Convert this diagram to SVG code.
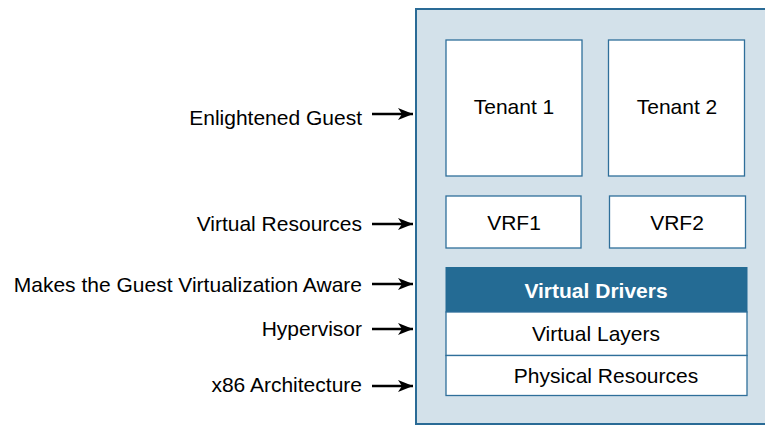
<svg xmlns="http://www.w3.org/2000/svg" width="765" height="425" viewBox="0 0 765 425">
<style>
.lbl{font-family:"Liberation Sans",Arial,sans-serif;font-size:21px;fill:#000;text-anchor:end}
.box{fill:#fff;stroke:#2f6f9a;stroke-width:1.3}
.t{font-family:"Liberation Sans",Arial,sans-serif;font-size:21px;fill:#000;text-anchor:middle}
.c{stroke:#000;stroke-width:2.5;fill:none;marker-end:url(#ah)}
</style>
<defs>
<marker id="ah" markerUnits="userSpaceOnUse" markerWidth="16" markerHeight="14" refX="15" refY="6" orient="auto">
<path d="M0,0 L15,6 L0,12 L4,6 Z" fill="#000"/>
</marker>
</defs>
<g id="outer"><rect x="416" y="9" width="360" height="415" fill="#d3e1ea" stroke="#2a6b96" stroke-width="2"/></g>
<g id="tenant1"><rect class="box" x="446" y="40" width="136" height="136"/><text class="t" x="514" y="114">Tenant 1</text></g>
<g id="tenant2"><rect class="box" x="608.5" y="40" width="136" height="136"/><text class="t" x="677" y="114">Tenant 2</text></g>
<g id="vrf1"><rect class="box" x="446" y="196" width="135" height="52"/><text class="t" x="514" y="230">VRF1</text></g>
<g id="vrf2"><rect class="box" x="609.5" y="196" width="136" height="52"/><text class="t" x="677" y="230">VRF2</text></g>
<g id="drivers"><rect x="446" y="267.5" width="301" height="44.5" fill="#246b94" stroke="#246b94" stroke-width="1"/><text class="t" x="596" y="298" style="fill:#fff;font-weight:bold">Virtual Drivers</text></g>
<g id="layers"><rect class="box" x="446" y="312" width="301" height="43.5"/><text class="t" x="596" y="341">Virtual Layers</text></g>
<g id="physical"><rect class="box" x="446" y="355.5" width="301" height="40"/><text class="t" x="606" y="383">Physical Resources</text></g>
<g id="labels">
<text class="lbl" x="362" y="125">Enlightened Guest</text>
<text class="lbl" x="362" y="231">Virtual Resources</text>
<text class="lbl" x="362" y="292">Makes the Guest Virtualization Aware</text>
<text class="lbl" x="362" y="336">Hypervisor</text>
<text class="lbl" x="362" y="392">x86 Architecture</text>
</g>
<g id="connectors">
<line class="c" x1="372" y1="114" x2="413" y2="114"/>
<line class="c" x1="372" y1="224" x2="413" y2="224"/>
<line class="c" x1="372" y1="284" x2="413" y2="284"/>
<line class="c" x1="372" y1="329" x2="413" y2="329"/>
<line class="c" x1="372" y1="386" x2="413" y2="386"/>
</g>
</svg>
